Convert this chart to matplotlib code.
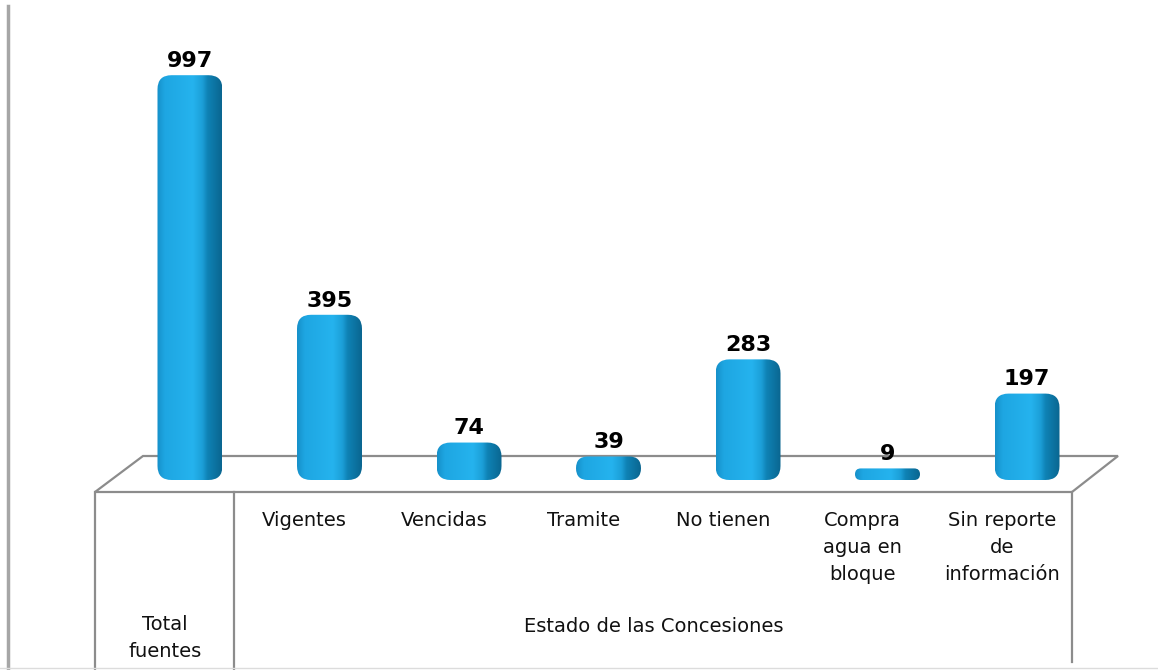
import numpy as np
import matplotlib
matplotlib.use("Agg")
import matplotlib.pyplot as plt
from matplotlib.patches import FancyBboxPatch, Polygon
from matplotlib.colors import LinearSegmentedColormap

# Data
categories = ["Total\nfuentes", "Vigentes", "Vencidas", "Tramite", "No tienen",
              "Compra\nagua en\nbloque", "Sin reporte\nde\ninformación"]
values = [997, 395, 74, 39, 283, 9, 197]
group_label = "Estado de las Concesiones"

W, H = 1158, 670
fig = plt.figure(figsize=(W / 100, H / 100), dpi=100)
ax = fig.add_axes([0, 0, 1, 1])
ax.axis("off")

# pixel layout of the original picture
X0, STEP = 190, 139.5      # px centre of first bar, px between bars
BASE, SCALE = 480, 0.398   # px (from top) of value 0, px per unit
xlim = (-X0 / STEP, (W - X0) / STEP)
ylim = (-(H - BASE) / SCALE, BASE / SCALE)


def dx(px):
    return (px - X0) / STEP


def dy(py):
    return (BASE - py) / SCALE


line_kw = dict(color="#8c8c8c", lw=1.6, zorder=1)

# left border
ax.plot([dx(8), dx(8)], [dy(6), dy(670)], color="#a6a6a6", lw=2.5, zorder=1)

# 3D floor
floor = Polygon([(dx(95), dy(492)), (dx(143), dy(456)), (dx(1118), dy(456)), (dx(1072), dy(492))],
                closed=True, fc="white", ec="#8c8c8c", lw=1.6, zorder=1)
ax.add_patch(floor)

# table lines under the floor
ax.plot([dx(95), dx(95)], [dy(492), dy(670)], **line_kw)
ax.plot([dx(234), dx(234)], [dy(492), dy(670)], **line_kw)
ax.plot([dx(1072), dx(1072)], [dy(492), dy(662)], **line_kw)
ax.plot([dx(0), dx(W)], [dy(668), dy(668)], color="#dcdcdc", lw=1, zorder=1)

# Bars (rounded, shaded like a 3D column)
cmap = LinearSegmentedColormap.from_list(
    "bar", [(0, "#1690c9"), (0.12, "#1ea6e2"), (0.55, "#25b3ee"),
            (0.7, "#1c9fd8"), (0.78, "#0f82b5"), (1, "#0a6690")])
grad = np.linspace(0, 1, 256).reshape(1, -1)
w = 65 / STEP
cap = 8 / SCALE            # depth of the 3D top face
aspect = STEP / SCALE

for i, v in enumerate(values):
    top = v + cap
    r_px = min(14, top * SCALE / 2)
    patch = FancyBboxPatch((i - w / 2, 0), w, top,
                           boxstyle=f"round,pad=0,rounding_size={r_px / STEP}",
                           mutation_aspect=aspect, fc="none", ec="none", zorder=3)
    ax.add_patch(patch)
    im = ax.imshow(grad, extent=[i - w / 2, i + w / 2, 0, top], aspect="auto",
                   cmap=cmap, zorder=3, interpolation="bicubic")
    im.set_clip_path(patch)
    ax.annotate(str(v), (i, top), xytext=(0, 3), textcoords="offset points",
                ha="center", va="bottom", fontsize=16, fontweight="bold", zorder=4)

# Category labels (table cells sit slightly left of the bars)
shift = 25 / STEP
text_kw = dict(fontsize=14, color="#111111", linespacing=1.55)
for i, lab in enumerate(categories[1:], start=1):
    ax.text(i - shift, dy(511), lab, ha="center", va="top", **text_kw)
ax.text(0 - shift, dy(638), categories[0], ha="center", va="center", **text_kw)
ax.text(3.5 - shift, dy(627), group_label, ha="center", va="center", **text_kw)

ax.set_xlim(*xlim)
ax.set_ylim(*ylim)

fig.savefig("out.png", dpi=100)
